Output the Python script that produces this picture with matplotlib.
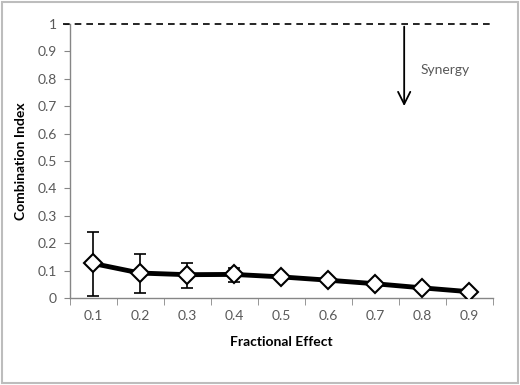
import matplotlib
matplotlib.use('Agg')
import matplotlib.pyplot as plt
from matplotlib.patches import Rectangle

# Combination index vs fractional effect
fa_labels = ['0.1', '0.2', '0.3', '0.4', '0.5', '0.6', '0.7', '0.8', '0.9']
ci_values = [0.126, 0.091, 0.085, 0.086, 0.077, 0.065, 0.052, 0.037, 0.023]
ci_err_up = [0.116, 0.071, 0.044, 0.025, 0.0, 0.0, 0.0, 0.0, 0.0]
ci_err_dn = [0.120, 0.073, 0.048, 0.029, 0.0, 0.0, 0.0, 0.0, 0.0]
yticks = [0, 0.1, 0.2, 0.3, 0.4, 0.5, 0.6, 0.7, 0.8, 0.9, 1]
ytick_labels = ['0', '0.1', '0.2', '0.3', '0.4', '0.5', '0.6', '0.7', '0.8', '0.9', '1']

plt.rcParams['font.family'] = ['Lato', 'DejaVu Sans']

fig = plt.figure(figsize=(5.2, 3.85), dpi=100)
ax = fig.add_axes([0.1337, 0.226, 0.8135, 0.712])

x = list(range(1, len(fa_labels) + 1))
ax.errorbar(x, ci_values, yerr=[ci_err_dn, ci_err_up], fmt='none',
            ecolor='black', elinewidth=1.2, capsize=4, capthick=1.2, zorder=2)
ax.plot(x, ci_values, color='black', lw=3.5, zorder=3)
ax.plot(x, ci_values, 'D', ms=9, mfc='white', mec='black', mew=1.5, zorder=4)

# additivity line and synergy arrow
ax.axhline(1.0, xmin=-0.015, xmax=0.994, color='black', lw=1.2,
           ls=(0, (4, 3)), clip_on=False)
ax.annotate('', xy=(7.62, 0.69), xytext=(7.62, 1.0),
            arrowprops=dict(arrowstyle='->', color='black', lw=1.3,
                            mutation_scale=22))
ax.text(7.96, 0.83, 'Synergy', fontsize=10, color='#595959', va='center')

ax.set_xlim(0.5, 9.5)
ax.set_ylim(0, 1)
ax.set_xticks(x)
ax.set_xticklabels(fa_labels)
ax.set_xticks([i + 0.5 for i in range(0, 10)], minor=True)
ax.set_yticks(yticks)
ax.set_yticklabels(ytick_labels)

for s in ['top', 'right']:
    ax.spines[s].set_visible(False)
for s in ['left', 'bottom']:
    ax.spines[s].set_color('#868686')
    ax.spines[s].set_linewidth(1)

ax.tick_params(axis='x', which='major', length=0, pad=9, labelsize=10,
               labelcolor='#595959')
ax.tick_params(axis='x', which='minor', length=5, color='#868686')
ax.tick_params(axis='y', length=4, color='#868686', labelsize=10,
               labelcolor='#595959', pad=5)

ax.set_xlabel('Fractional Effect', fontsize=10, fontweight='bold', labelpad=10)
ax.set_ylabel('Combination Index', fontsize=10, fontweight='bold', labelpad=8)

fig.patches.append(Rectangle((0.003, 0.004), 0.994, 0.992,
                             transform=fig.transFigure, fill=False,
                             edgecolor='#bdbdbd', lw=1.5))

fig.savefig('out.png', dpi=100)
